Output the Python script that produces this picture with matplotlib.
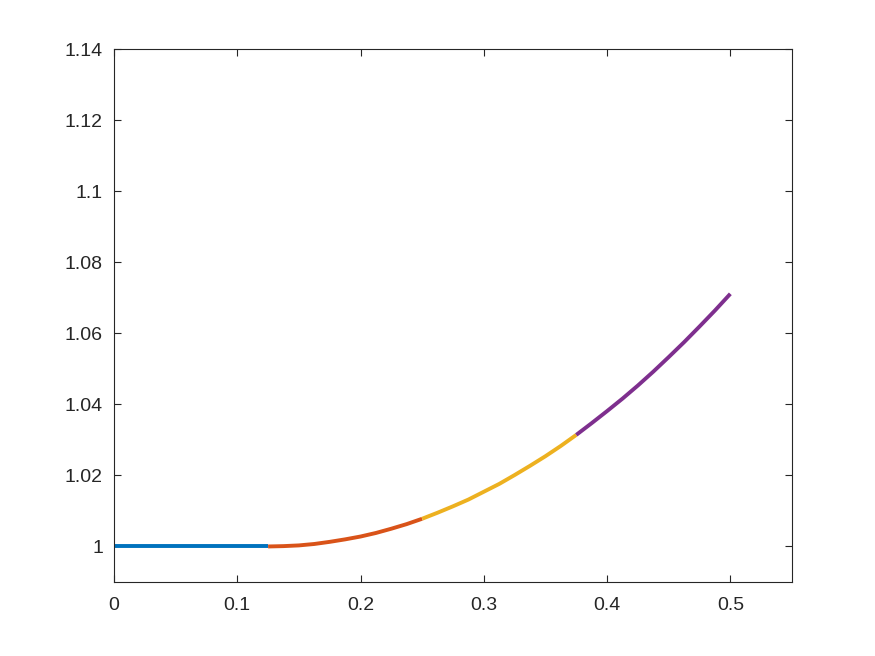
import matplotlib
matplotlib.use("Agg")
import matplotlib.pyplot as plt

plt.rcParams['font.family'] = ['Liberation Sans', 'DejaVu Sans']

# four piecewise segments
seg1_x = [0.0, 0.025, 0.05, 0.075, 0.1, 0.125]
seg1_y = [1.0, 1.0, 1.0, 1.0, 1.0, 1.0]

seg2_x = [0.125, 0.1375, 0.15, 0.1625, 0.175, 0.1875, 0.2, 0.2125, 0.225, 0.2375, 0.25]
seg2_y = [1.0000, 1.0001, 1.0003, 1.0007, 1.0013, 1.0020, 1.0028, 1.0038, 1.0050, 1.0063, 1.0078]

seg3_x = [0.25, 0.2625, 0.275, 0.2875, 0.3, 0.3125, 0.325, 0.3375, 0.35, 0.3625, 0.375]
seg3_y = [1.0078, 1.0095, 1.0113, 1.0132, 1.0154, 1.0176, 1.0201, 1.0227, 1.0254, 1.0283, 1.0314]

seg4_x = [0.375, 0.3875, 0.4, 0.4125, 0.425, 0.4375, 0.45, 0.4625, 0.475, 0.4875, 0.5]
seg4_y = [1.0314, 1.0347, 1.0381, 1.0416, 1.0453, 1.0492, 1.0533, 1.0575, 1.0619, 1.0664, 1.0711]

x_ticks = [0, 0.1, 0.2, 0.3, 0.4, 0.5]
x_labels = ['0', '0.1', '0.2', '0.3', '0.4', '0.5']
y_ticks = [1, 1.02, 1.04, 1.06, 1.08, 1.1, 1.12, 1.14]
y_labels = ['1', '1.02', '1.04', '1.06', '1.08', '1.1', '1.12', '1.14']

colors = ['#0072BD', '#D95319', '#EDB120', '#7E2F8E']

fig = plt.figure(figsize=(8.75, 6.56), dpi=100)
ax = fig.add_axes([0.1303, 0.1128, 0.7748, 0.8125])

segments = [(seg1_x, seg1_y), (seg2_x, seg2_y), (seg3_x, seg3_y), (seg4_x, seg4_y)]
for (sx, sy), c in zip(segments, colors):
    ax.plot(sx, sy, color=c, linewidth=2.8, solid_capstyle='butt')

ax.set_xlim(0, 0.55)
ax.set_ylim(0.99, 1.14)
ax.set_xticks(x_ticks)
ax.set_xticklabels(x_labels)
ax.set_yticks(y_ticks)
ax.set_yticklabels(y_labels)

edge = '#262626'
for s in ax.spines.values():
    s.set_color(edge)
    s.set_linewidth(0.8)
ax.tick_params(direction='in', top=True, right=True, length=5, width=0.8,
               color=edge, labelcolor=edge, labelsize=14)
ax.tick_params(axis='x', pad=11)
ax.tick_params(axis='y', pad=8)

fig.savefig('out.png', dpi=100)
